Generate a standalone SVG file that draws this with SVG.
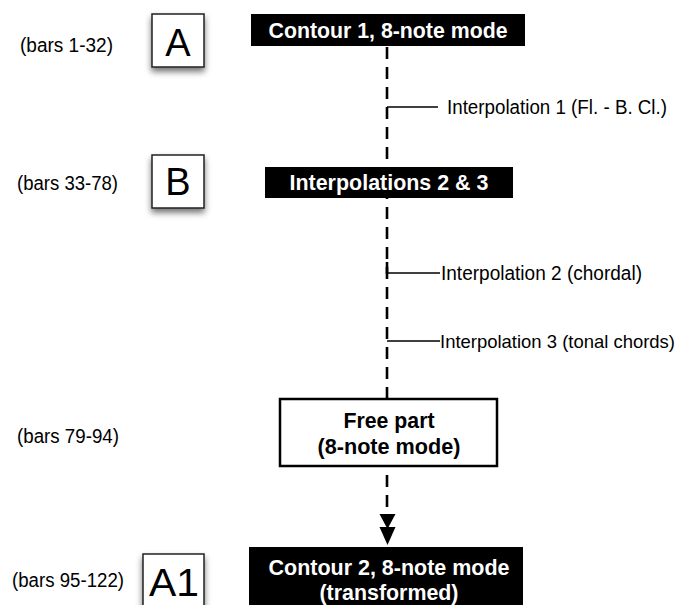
<svg xmlns="http://www.w3.org/2000/svg" width="680" height="605" viewBox="0 0 680 605">
<defs>
<filter id="sh" x="-30%" y="-30%" width="160%" height="170%">
<feDropShadow dx="0" dy="4" stdDeviation="3" flood-color="#000" flood-opacity="0.55"/>
</filter>
</defs>
<style>
.lbl{font-family:"Liberation Sans",Arial,sans-serif;font-size:20px;fill:#000}
.sec{fill:#fff;stroke:#222;stroke-width:1.5}
.secT{font-family:"Liberation Sans",Arial,sans-serif;font-size:38px;fill:#000;text-anchor:middle}
.blk{fill:#000}
.wT{font-family:"Liberation Sans",Arial,sans-serif;font-size:22px;font-weight:bold;fill:#fff;text-anchor:middle}
.bT{font-family:"Liberation Sans",Arial,sans-serif;font-size:22px;font-weight:bold;fill:#000;text-anchor:middle}
.dash{stroke:#000;stroke-width:2.6;stroke-dasharray:12 8;fill:none}
.thin{stroke:#000;stroke-width:1.3;fill:none}
</style>

<g id="connectors">
<line class="dash" x1="387" y1="47" x2="387" y2="399"/>
<line class="dash" x1="387" y1="475" x2="387" y2="512"/>
<polygon points="379.5,514 395.5,514 387.5,529" fill="#000"/>
<polygon points="379.5,527 395.5,527 387.5,545" fill="#000"/>
<line class="thin" x1="387" y1="107" x2="438" y2="107"/>
<line x1="387" y1="262" x2="387" y2="274" stroke="#000" stroke-width="2.6"/>
<line class="thin" x1="387" y1="273" x2="440" y2="273"/>
<line class="thin" x1="387" y1="341" x2="440" y2="341"/>
</g>

<g id="labels">
<text class="lbl" x="20" y="52" textLength="93" lengthAdjust="spacingAndGlyphs">(bars 1-32)</text>
<text class="lbl" x="17" y="190" textLength="101" lengthAdjust="spacingAndGlyphs">(bars 33-78)</text>
<text class="lbl" x="17" y="443" textLength="102" lengthAdjust="spacingAndGlyphs">(bars 79-94)</text>
<text class="lbl" x="12" y="587" textLength="112" lengthAdjust="spacingAndGlyphs">(bars 95-122)</text>
<text class="lbl" x="447" y="114" textLength="220" lengthAdjust="spacingAndGlyphs">Interpolation 1 (Fl. - B. Cl.)</text>
<text class="lbl" x="441" y="280" textLength="201" lengthAdjust="spacingAndGlyphs">Interpolation 2 (chordal)</text>
<text class="lbl" x="440" y="348" style="font-size:18.5px" textLength="235" lengthAdjust="spacingAndGlyphs">Interpolation 3 (tonal chords)</text>
</g>

<g id="secA">
<rect class="sec" x="152" y="14" width="52" height="53" filter="url(#sh)"/>
<text class="secT" x="178" y="56">A</text>
</g>
<g id="secB">
<rect class="sec" x="152" y="155" width="52" height="53" filter="url(#sh)"/>
<text class="secT" x="178" y="195">B</text>
</g>
<g id="secA1">
<rect class="sec" x="143" y="554" width="61" height="70" filter="url(#sh)"/>
<text class="secT" x="174" y="596" textLength="50" lengthAdjust="spacingAndGlyphs">A1</text>
</g>

<g id="contour1">
<rect class="blk" x="251" y="14" width="274" height="32"/>
<text class="wT" x="388" y="38" textLength="239" lengthAdjust="spacingAndGlyphs">Contour 1, 8-note mode</text>
</g>
<g id="interp23">
<rect class="blk" x="265" y="167" width="248" height="31"/>
<text class="wT" x="389" y="190" textLength="199" lengthAdjust="spacingAndGlyphs">Interpolations 2 &amp; 3</text>
</g>
<g id="freepart">
<rect x="280" y="399" width="217" height="67" fill="#fff" stroke="#000" stroke-width="2.5"/>
<text class="bT" x="389" y="428" textLength="91" lengthAdjust="spacingAndGlyphs">Free part</text>
<text class="bT" x="389" y="454" textLength="143" lengthAdjust="spacingAndGlyphs">(8-note mode)</text>
</g>
<g id="contour2">
<rect class="blk" x="249" y="547" width="274" height="70"/>
<text class="wT" x="389" y="575" textLength="241" lengthAdjust="spacingAndGlyphs">Contour 2, 8-note mode</text>
<text class="wT" x="389" y="600" textLength="139" lengthAdjust="spacingAndGlyphs">(transformed)</text>
</g>
</svg>
